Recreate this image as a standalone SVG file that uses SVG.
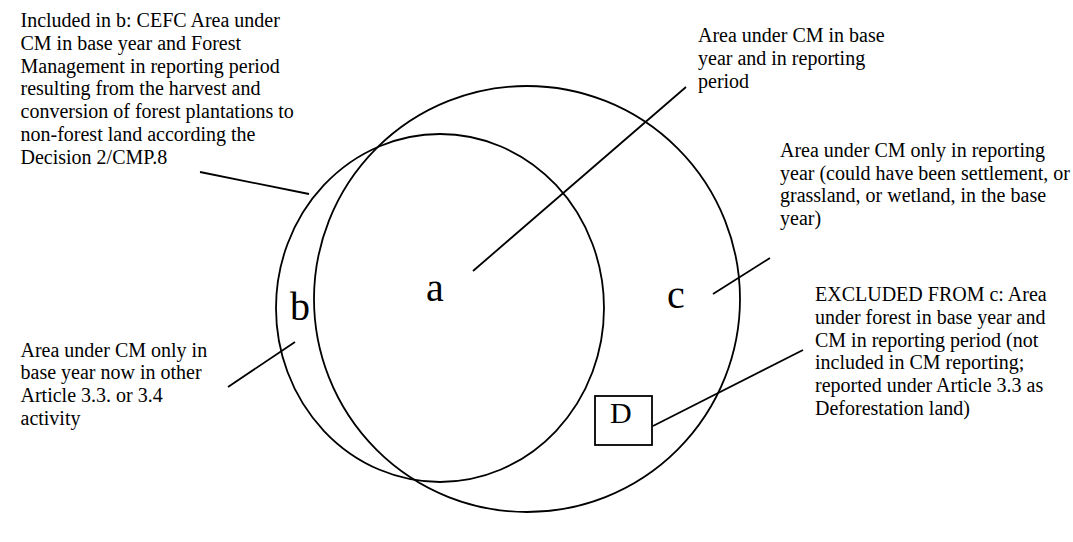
<svg xmlns="http://www.w3.org/2000/svg" width="1073" height="542" viewBox="0 0 1073 542">
<style>
.t{font-family:"Liberation Serif","Times New Roman",serif;font-size:20px;fill:#000}
.big{font-family:"Liberation Serif","Times New Roman",serif;font-size:40px;fill:#000}
.shape{fill:none;stroke:#000;stroke-width:1.8}
.conn{stroke:#000;stroke-width:1.8;fill:none}
</style>
<rect width="1073" height="542" fill="#fff"/>
<g id="circle-base">
<ellipse class="shape" cx="440" cy="308" rx="164" ry="174"/>
</g>
<g id="circle-reporting">
<circle class="shape" cx="527" cy="299" r="213"/>
</g>
<g id="label-a"><text class="big" x="426" y="301">a</text></g>
<g id="label-b"><text class="big" x="290" y="320">b</text></g>
<g id="label-c"><text class="big" x="667" y="308">c</text></g>
<g id="node-D">
<rect class="shape" x="595" y="396" width="57" height="49"/>
<text class="t" x="610" y="423" style="font-size:30px">D</text>
</g>
<g id="connectors">
<line class="conn" x1="200" y1="172" x2="309" y2="194"/>
<line class="conn" x1="473" y1="271" x2="686" y2="87"/>
<line class="conn" x1="713" y1="294" x2="770" y2="258"/>
<line class="conn" x1="653" y1="426" x2="803" y2="350"/>
<line class="conn" x1="228" y1="387" x2="295" y2="342"/>
</g>
<g id="note-b-included">
<text class="t" x="20.5" y="26.7">Included in b: CEFC Area under</text>
<text class="t" x="20.5" y="49.6">CM in base year and Forest</text>
<text class="t" x="20.5" y="72.5">Management in reporting period</text>
<text class="t" x="20.5" y="95.4">resulting from the harvest and</text>
<text class="t" x="20.5" y="118.3">conversion of forest plantations to</text>
<text class="t" x="20.5" y="141.2">non-forest land according the</text>
<text class="t" x="20.5" y="164.1">Decision 2/CMP.8</text>
</g>
<g id="note-a">
<text class="t" x="698" y="41.7">Area under CM in base</text>
<text class="t" x="698" y="64.6">year and in reporting</text>
<text class="t" x="698" y="87.5">period</text>
</g>
<g id="note-c">
<text class="t" x="780" y="156.7">Area under CM only in reporting</text>
<text class="t" x="780" y="179.5">year (could have been settlement, or</text>
<text class="t" x="780" y="202.3">grassland, or wetland, in the base</text>
<text class="t" x="780" y="225.1">year)</text>
</g>
<g id="note-D">
<text class="t" x="815" y="300.7">EXCLUDED FROM c: Area</text>
<text class="t" x="815" y="323.6">under forest in base year and</text>
<text class="t" x="815" y="346.5">CM in reporting period (not</text>
<text class="t" x="815" y="369.4">included in CM reporting;</text>
<text class="t" x="815" y="392.3">reported under Article 3.3 as</text>
<text class="t" x="815" y="415.2">Deforestation land)</text>
</g>
<g id="note-b">
<text class="t" x="20.5" y="356.7">Area under CM only in</text>
<text class="t" x="20.5" y="379.3">base year now in other</text>
<text class="t" x="20.5" y="401.9">Article 3.3. or 3.4</text>
<text class="t" x="20.5" y="424.5">activity</text>
</g>
</svg>
